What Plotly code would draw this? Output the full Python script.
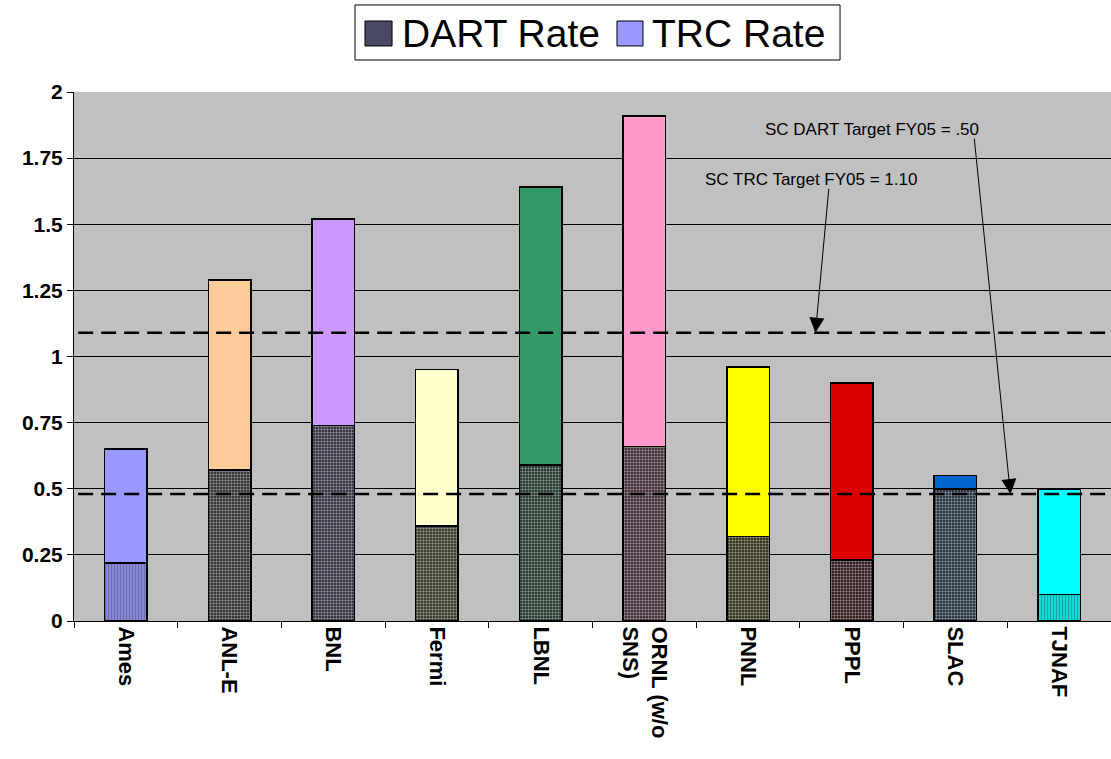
import plotly.graph_objects as go

sites = ["Ames", "ANL-E", "BNL", "Fermi", "LBNL", "ORNL (w/o<br>SNS)", "PNNL", "PPPL", "SLAC", "TJNAF"]
dart_rate = [0.22, 0.57, 0.74, 0.36, 0.59, 0.66, 0.32, 0.23, 0.50, 0.10]
total_rate = [0.65, 1.29, 1.52, 0.95, 1.64, 1.91, 0.96, 0.90, 0.55, 0.50]
trc_colors = ["#9999FF", "#FFCC99", "#CC99FF", "#FFFFCC", "#339966",
              "#FF99CC", "#FFFF00", "#DD0000", "#0066CC", "#00FFFF"]
dart_shapes = ["|", ".", ".", ".", ".", ".", ".", ".", ".", "|"]
dart_dark = ["#333366", "#1a1a1a", "#1a1a2a", "#222211", "#0a2014",
             "#2a1420", "#1a1a00", "#1a0000", "#0a1a2a", "#004444"]
dart_target = 0.48
trc_target = 1.09
legend_labels = ["DART Rate", "TRC Rate"]
legend_colors = ["#4a4a66", "#9999FF"]

trc_segment = [t - d for t, d in zip(total_rate, dart_rate)]
FONT = "Liberation Sans, Arial, sans-serif"

# striped bars: dark stripes on light bg; dotted bars: light dots on dark bg
pat_fg = [d if s == "|" else c for s, d, c in zip(dart_shapes, dart_dark, trc_colors)]
pat_bg = [c if s == "|" else d for s, d, c in zip(dart_shapes, dart_dark, trc_colors)]
pat_sol = [0.6 if s == "|" else 0.5 for s in dart_shapes]

fig = go.Figure()
fig.add_trace(go.Bar(
    x=sites, y=dart_rate, name=legend_labels[0],
    marker=dict(color=pat_bg, line=dict(color="black", width=1.5),
                pattern=dict(shape=dart_shapes, fgcolor=pat_fg, bgcolor=pat_bg,
                             size=3, solidity=pat_sol)),
    width=0.41,
))
fig.add_trace(go.Bar(
    x=sites, y=trc_segment, name=legend_labels[1],
    marker=dict(color=trc_colors, line=dict(color="black", width=1.5)),
    width=0.41,
))

for yv in (trc_target, dart_target):
    fig.add_shape(type="line", xref="paper", yref="y", x0=0.004, x1=1, y0=yv, y1=yv,
                  line=dict(color="black", width=2.5, dash="15px,8px"))

# arrows
fig.add_annotation(x=8.53, y=dart_target, ax=8.18, ay=1.83, axref="x", ayref="y",
                   xref="x", yref="y", text="", showarrow=True, arrowhead=2,
                   arrowsize=3, arrowwidth=1, arrowcolor="black")
fig.add_annotation(x=6.65, y=trc_target, ax=6.78, ay=1.64, axref="x", ayref="y",
                   xref="x", yref="y", text="", showarrow=True, arrowhead=2,
                   arrowsize=3, arrowwidth=1, arrowcolor="black")
fig.add_annotation(x=7.2, y=1.857, xref="x", yref="y", text="SC DART Target FY05 = .50",
                   showarrow=False, font=dict(family=FONT, size=17, color="black"))
fig.add_annotation(x=6.61, y=1.668, xref="x", yref="y", text="SC TRC Target FY05 = 1.10",
                   showarrow=False, font=dict(family=FONT, size=17, color="black"))

# custom legend (large swatches)
fig.add_shape(type="rect", xref="paper", yref="paper", x0=0.271, x1=0.7387, y0=1.0605, y1=1.1645,
              line=dict(color="black", width=1), fillcolor="white")
sw_x = [(0.2806, 0.3067), (0.5236, 0.5487)]
tx_x = [0.3144, 0.5554]
for lab, col, (a, b), tx in zip(legend_labels, legend_colors, sw_x, tx_x):
    fig.add_shape(type="rect", xref="paper", yref="paper", x0=a, x1=b, y0=1.0870, y1=1.1342,
                  line=dict(color="black", width=1), fillcolor=col)
    fig.add_annotation(x=tx, y=1.1115, xref="paper", yref="paper", text=lab, showarrow=False,
                       xanchor="left", yanchor="middle",
                       font=dict(family=FONT, size=39, color="black"))

fig.update_layout(
    width=1111, height=759,
    barmode="stack",
    paper_bgcolor="white", plot_bgcolor="#C0C0C0",
    margin=dict(l=74, r=0, t=92, b=138),
    font=dict(family=FONT, color="black"),
    showlegend=False,
    xaxis=dict(tickangle=90, tickfont=dict(family=FONT, size=22, color="black", weight="bold"),
               showline=True, linecolor="black", linewidth=1, ticks="outside",
               tickson="boundaries", ticklen=6, tickcolor="black", automargin=False,
               range=[-0.5, 9.5]),
    yaxis=dict(range=[0, 2], dtick=0.25, showgrid=True, gridcolor="black", gridwidth=1,
               showline=True, linecolor="black", linewidth=1, ticks="outside", ticklen=6,
               tickcolor="black", tickfont=dict(family=FONT, size=21, color="black", weight="bold"),
               zeroline=False, automargin=False),
)

fig.write_html("out.html", config={"displayModeBar": False},
               post_script="document.body.style.margin='0';")
